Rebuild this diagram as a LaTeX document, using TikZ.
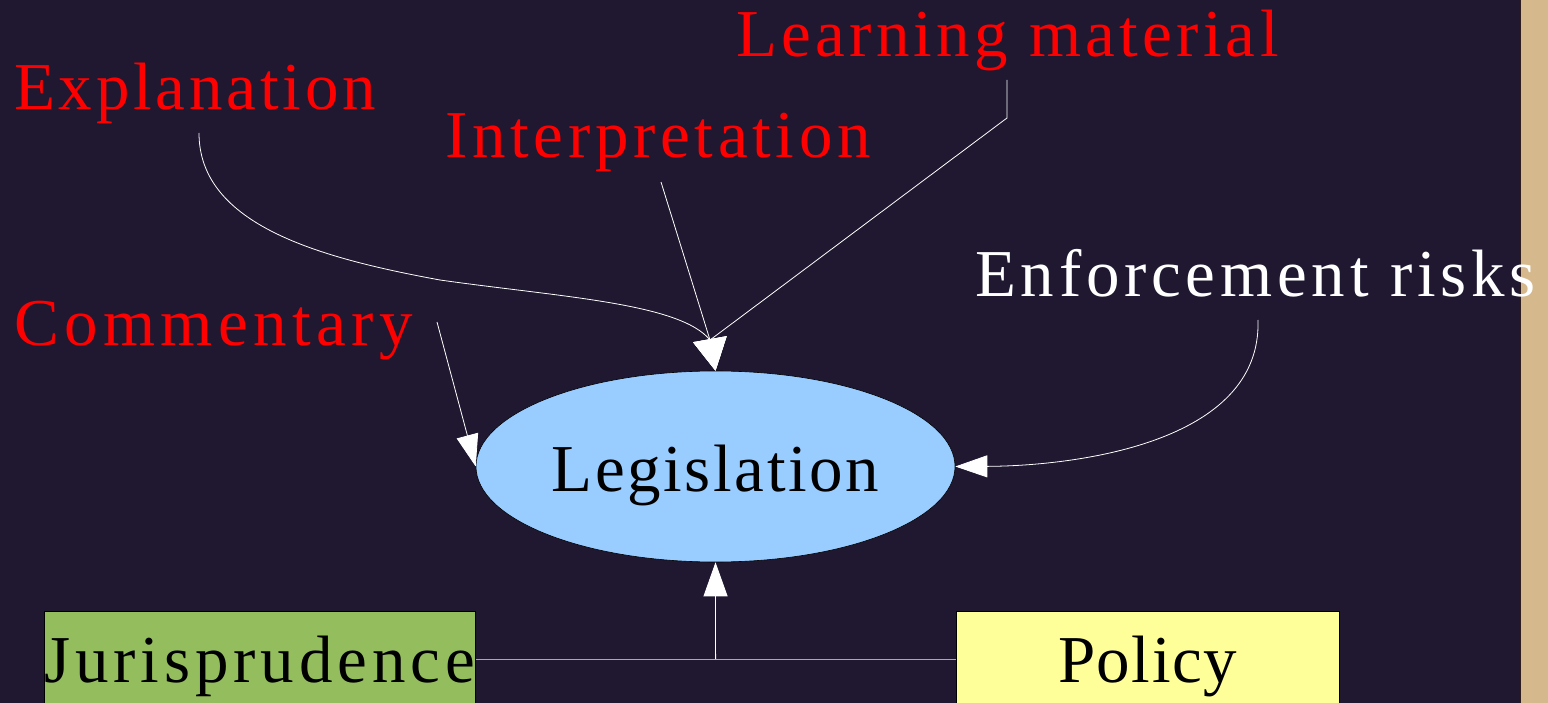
\documentclass[tikz,border=0pt]{standalone}
\usepackage{fontspec}
\setmainfont{Liberation Serif}
\usetikzlibrary{arrows.meta,calc,shapes.geometric}
\definecolor{bgcol}{RGB}{31,24,48}
\definecolor{beige}{RGB}{213,185,140}
\definecolor{edgecol}{RGB}{45,28,28}
\definecolor{legcol}{RGB}{153,204,255}
\definecolor{jurcol}{RGB}{148,189,94}
\definecolor{polcol}{RGB}{255,255,153}
\definecolor{hline}{RGB}{170,168,178}
\newcommand{\lsp}[2]{{\addfontfeature{LetterSpace=#1}#2}}
\begin{document}
\begin{tikzpicture}[x=1pt,y=-1pt,
  bigfont/.style={font=\fontsize{67}{72}\selectfont},
  lbl/.style={bigfont, inner sep=0pt, anchor=base west},
  conn/.style={draw=white, line width=0.8pt},
  tipA/.style={-{Triangle[length=32pt,width=22pt]}},
  tipB/.style={-{Triangle[length=32pt,width=34pt]}},
  tipC/.style={-{Triangle[length=34pt,width=24pt]}},
  boxstyle/.style={draw=black, line width=0.6pt, inner sep=0pt, minimum height=96pt, bigfont, text height=46pt, text depth=0pt}
]
\useasboundingbox (0,0) rectangle (1548,703);
\clip (0,0) rectangle (1548,703);
\fill[bgcol] (0,0) rectangle (1548,703);
\fill[beige] (1521,0) rectangle (1548,703);
\draw[edgecol, line width=1.5pt] (1520.5,0) -- (1520.5,703);

% labels
\node[lbl, text=red] (expl) at (14,110) {\lsp{5.7}{Explanation}};
\node[lbl, text=red] (interp) at (445,158) {\lsp{7.0}{Interpretation}};
\node[lbl, text=red] (learn) at (736,57) {\lsp{6.4}{Learning material}};
\node[lbl, text=red] (comm) at (14,345) {\lsp{8.1}{Commentary}};
\node[lbl, text=white] (enf) at (975,297) {\lsp{7.1}{Enforcement risks}};

% main nodes
\node[ellipse, draw=black, line width=0.6pt, fill=legcol, minimum width=479pt, minimum height=191pt, inner sep=0pt, bigfont, text height=49pt, text depth=0pt] (leg) at (715.5,466.5) {\lsp{3.9}{Legislation}};
\node[boxstyle, fill=jurcol, minimum width=430.5pt] (jur) at (259.8,659) {\lsp{7.3}{Jurisprudence}};
\node[boxstyle, fill=polcol, minimum width=383pt] (pol) at (1147.5,659) {\lsp{2.2}{Policy}};

% connector anchor points
\coordinate (explS) at ($(expl.base west)+(185,23)$);
\coordinate (interpS) at ($(interp.base west)+(216,24)$);
\coordinate (learnS) at ($(learn.base west)+(271,23)$);
\coordinate (learnB) at ($(learnS)+(0,38)$);
\coordinate (commS) at ($(comm.base west)+(423,-23)$);
\coordinate (enfS) at ($(enf.base west)+(283,23)$);
\coordinate (j) at (710,340);
\coordinate (bmid) at ($(jur.east)!0.5!(pol.west)$);

% connectors
\draw[conn, tipB] (explS) .. controls (199,225) and (320,258) .. (440,280)
   .. controls (560,297) and (680,303) .. (j) -- (leg.north);
\draw[conn, tipB] (interpS) -- (j) -- (leg.north);
\draw[conn, tipB] (learnS) -- (learnB) -- (j) -- (leg.north);
\draw[conn, tipA] (commS) -- (leg.west);
\draw[conn, tipA] (enfS) .. controls (1262,445) and (1070,466) .. (leg.east);
\draw[hline, line width=1pt] (jur.east) -- (pol.west);
\draw[conn, tipC] (bmid) -- (leg.south);
\end{tikzpicture}
\end{document}
